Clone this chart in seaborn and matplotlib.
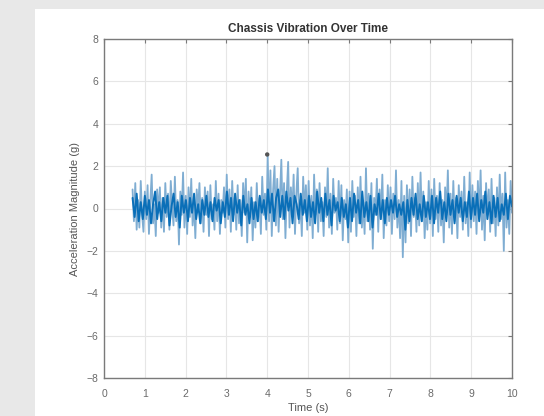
import numpy as np
import pandas as pd
import matplotlib
matplotlib.use('Agg')
import matplotlib.pyplot as plt
from matplotlib.patches import Rectangle
import seaborn as sns

# Sinal bruto (azul claro), estimado da figura, de 0.7 s a 10 s
raw_vals = [
    0.9, -0.6, 1.2, -1.0, 0.4, -0.9, 1.3, -0.3, -1.1,
    0.8, -0.5, 1.1, -1.2, 0.3, 1.6, -0.7, 0.2, -1.3, 0.9, -0.2, 1.0, -0.9, 0.5, -1.1,
    1.2, -0.4, 0.7, -1.0, 1.3, 0.1, -0.8, 1.5, -0.6, 0.4, -1.7, 0.8, -0.3, 1.7, -0.9,
    0.6, -1.2, 1.0, -0.4, 1.4, -0.8, 0.3, -1.4, 0.9, -0.1, 1.2, -0.7, 0.5, -1.1, 1.0,
    -0.3, 0.8, -1.3, 1.1, -0.5, 0.2, -1.0, 1.3, -0.6, 0.7, -1.2, 0.4, -0.2, 1.0, -0.9,
    1.6, -0.5, 0.9, -1.1, 1.3, -0.3, 0.6, -1.0, 1.1, -0.7, 0.4, -1.3, 1.2, -0.2, 1.4,
    -1.6, 0.8, -0.4, 1.0, -1.5, 0.3, -0.9, 1.2, -0.6, 0.5, -1.2, 1.5, -0.3, 0.7, -1.0,
    2.5, -0.6, 1.8, -1.3, 0.9, 2.0, -0.8, 1.4, -1.1, 0.6, 2.3, -0.5, 1.2, -1.4, 0.8,
    2.2, -0.9, 1.0, -0.3, 1.6, -1.2, 0.7, 1.9, -0.7, 0.4, -1.3, 1.5, -0.2, 1.1, -1.0,
    1.3, -0.8, 0.6, -1.4, 1.6, -0.3, 0.9, -1.1, 1.2, -0.6, 0.3, -1.3, 1.0, -0.4, 1.9,
    -0.9, 0.7, -1.2, 1.4, -0.2, 0.5, -1.0, 1.3, -0.7, 1.1, -1.5, 0.4, -0.5, 0.9, -1.6,
    0.8, -1.1, 1.3, -0.4, 0.6, -1.3, 1.0, -0.7, 1.5, -0.9, 0.3, -1.2, 1.9, -0.6, 0.7,
    -1.0, 1.2, -1.9, 0.5, -0.3, 1.4, -1.1, 0.9, -0.5, 1.6, -1.4, 0.4, -0.8, 1.1, -0.6,
    1.0, -1.2, 0.7, -0.5, 1.8, -0.9, 0.4, -1.4, 1.3, -2.3, 0.6, -1.6, 1.1, -0.7, 0.9,
    -1.3, 1.5, -0.4, 0.5, -1.1, 1.2, -0.8, 1.7, -0.6, 0.8, -1.4, 0.3, -1.0, 1.3, -0.7,
    0.9, -1.3, 1.4, -0.5, 0.6, -1.1, 1.2, -0.8, 0.4, -1.6, 1.0, -0.3, 1.8, -0.9, 0.7,
    -1.2, 1.3, -0.6, 0.5, -1.4, 1.1, -0.4, 0.8, -1.0, 1.5, -0.7, 0.3, -1.3, 1.7, -0.9,
    1.1, -0.6, 0.8, -1.2, 1.3, -0.4, 1.8, -1.0, 0.6, -1.5, 1.2, -0.3, 0.9, -1.1, 1.4,
    -0.7, 0.5, -1.3, 1.0, -0.8, 1.6, -0.5, 0.7, -2.0, 1.7, -0.9, 0.4, -1.2, 1.3, -0.2,
]

# Sinal filtrado (azul escuro)
filt_vals = [
    0.5, -0.4, 0.7, -0.6, 0.3, -0.5,
    0.6, -0.3, 0.4, -0.7, 0.2, 0.8, -0.5, 0.3, -0.6, 0.5, -0.2, 0.6, -0.8, 0.1, 0.7, -0.4, 0.3, -0.9, 0.6, -0.2,
    0.4, -0.6, 0.5, -0.2, 0.7, -0.5, 0.2, -0.7, 0.4, -0.3, 0.6, -0.4, 0.3, -0.6, 0.5, -0.1, 0.4, -0.7, 0.3, -0.4,
    0.8, -0.3, 0.5, -0.6, 0.7, -0.2, 0.4, -0.8, 0.6, -0.3, 0.2, -0.7, 0.5, -0.5, 0.3, -0.6, 0.6, -0.2, 0.4, -0.5,
    0.9, -0.2, 0.7, -0.6, 0.5, 0.9, -0.4, 0.6, -0.5, 0.8, -0.1, 0.5, -0.7, 0.6, 0.2, -0.5, 0.7, -0.3, 0.4, -0.6,
    0.6, -0.4, 0.3, -0.7, 0.8, -0.2, 0.5, -0.6, 0.7, -0.3, 0.4, -0.8, 0.6, -0.1, 0.3, -0.6, 0.5, -0.4, 0.2, -0.9,
    0.5, -0.6, 0.7, -0.2, 0.4, -0.7, 0.8, -0.4, 0.3, -0.6, 0.6, -0.9, 0.2, -0.3, 0.7, -0.5, 0.4, -0.7, 0.5, -0.3,
    0.4, -0.2, 0.6, -0.4, 0.2, -0.3, 0.3, -1.0, 0.4, -0.6, 0.5, -0.3, 0.7, -0.5, 0.2, -0.6, 0.6, -0.4, 0.3, -0.5,
    0.6, -0.7, 0.5, -0.2, 0.8, -0.5, 0.3, -0.6, 0.7, -0.3, 0.4, -0.7, 0.6, -0.2, 0.5, -0.6, 0.3, -0.4, 0.8, -0.5,
    0.5, -0.3, 0.7, -0.6, 0.4, -0.2, 0.8, -0.5, 0.3, -0.7, 0.6, -0.4, 0.5, -0.6, 0.2, -0.3, 0.7, -0.5, 0.6, 0.1,
]

t_start, t_end = 0.7, 10.0
peak_t = [4.0]
peak_val = [2.55]

x_ticks = list(range(0, 11))
y_ticks = list(range(-8, 9, 2))

raw = pd.DataFrame({'t': np.linspace(t_start, t_end, len(raw_vals)), 'acc': raw_vals})
filt = pd.DataFrame({'t': np.linspace(t_start, t_end, len(filt_vals)), 'acc': filt_vals})

sns.set_style('whitegrid')
plt.rcParams['font.family'] = ['Liberation Sans', 'DejaVu Sans']

fig = plt.figure(figsize=(5.44, 4.16), dpi=100)
fig.patch.set_facecolor('#e8e8e8')
fig.patches.append(Rectangle((35 / 544, 0), 1 - 35 / 544, 1 - 9 / 416,
                             transform=fig.transFigure, facecolor='white',
                             edgecolor='none', zorder=-10))

ax = fig.add_axes([104 / 544, 1 - 378 / 416, (512 - 104) / 544, (378 - 39) / 416])

sns.lineplot(data=raw, x='t', y='acc', ax=ax, color='#7fadd2', linewidth=1.3,
             estimator=None, sort=False)
sns.lineplot(data=filt, x='t', y='acc', ax=ax, color='#0a6fb8', linewidth=1.4,
             estimator=None, sort=False)
sns.scatterplot(x=peak_t, y=peak_val, ax=ax, color='#555555', s=10, edgecolor='none',
                zorder=5)

ax.set_xlim(0, 10)
ax.set_ylim(-8, 8)
ax.set_xticks(x_ticks)
ax.set_yticks(y_ticks)
ax.grid(True, color='#e6e6e6', linewidth=0.8)
for s in ax.spines.values():
    s.set_color('#7a7a7a')
    s.set_linewidth(1.0)
ax.tick_params(direction='in', top=True, right=True, length=3, color='#7a7a7a',
               labelsize=7.5, labelcolor='#6a6a6a')
ax.tick_params(axis='x', pad=8)
ax.tick_params(axis='y', pad=4)

ax.set_title('Chassis Vibration Over Time', fontsize=8.5, fontweight='bold',
             color='#333333', pad=5)
ax.set_xlabel('Time (s)', fontsize=8, color='#555555', labelpad=3)
ax.set_ylabel('Acceleration Magnitude (g)', fontsize=8, color='#555555', labelpad=5)

fig.savefig('out.png', dpi=100, facecolor=fig.get_facecolor())
